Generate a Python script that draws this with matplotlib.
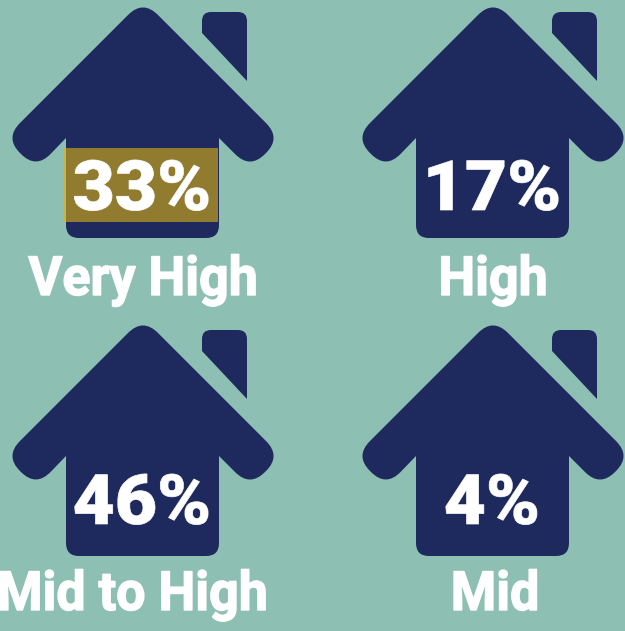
import matplotlib
matplotlib.use("Agg")
import matplotlib.pyplot as plt
from matplotlib.patches import PathPatch, Rectangle
from matplotlib.patheffects import AbstractPathEffect
from matplotlib.path import Path
from matplotlib.transforms import Affine2D
import numpy as np

categories = ["Very High", "High", "Mid to High", "Mid"]
percent_labels = ["33%", "17%", "46%", "4%"]
highlighted = ["Very High"]

BACKGROUND = "#8DBFB3"
NAVY = "#1E2A5E"
GOLD = "#907B2F"
GOLD_EDGE = "#C4B54E"

# Outline of one house icon in pixel units: (x, y, corner radius)
HOUSE_OUTLINE = [
    (143, 0, 21), (281, 138, 21), (250, 169, 21), (219, 138, 0),
    (219, 238, 13), (66, 238, 13), (66, 138, 0), (36, 169, 21),
    (5, 138, 21),
]
CHIMNEY_OUTLINE = [
    (202, 12, 9), (247, 12, 9), (247, 81, 0), (202, 33, 0),
]

COLUMN_OFFSETS = [0, 350]
ROW_OFFSETS = [0, 318]
PERCENT_BASELINES = [210, 524]
LABEL_BASELINES = [295, 610]
LABEL_ANCHORS = [143, 493, 0, 495]
LABEL_ALIGN = ["center", "center", "left", "center"]
LABEL_SHIFTS = [0, 0, -3, 0]


class Condense(AbstractPathEffect):
    """Scales glyphs horizontally about an anchor and thickens them with a stroke."""

    def __init__(self, anchor_x, factor, stroke, shift=0):
        super().__init__()
        self.anchor_x, self.factor, self.stroke, self.shift = anchor_x, factor, stroke, shift

    def draw_path(self, renderer, gc, tpath, affine, rgbFace):
        squeeze = (Affine2D().translate(-self.anchor_x, 0).scale(self.factor, 1)
                   .translate(self.anchor_x + self.shift, 0))
        gc2 = renderer.new_gc()
        gc2.copy_properties(gc)
        gc2.set_linewidth(self.stroke)
        gc2.set_foreground(rgbFace)
        renderer.draw_path(gc2, tpath, affine + squeeze, rgbFace)
        gc2.restore()


def rounded_path(points, dx=0, dy=0):
    """Closed path whose corners are softened by quadratic curves."""
    verts, codes = [], []
    n = len(points)
    for i, (x, y, r) in enumerate(points):
        p = np.array([x + dx, y + dy], float)
        prev = np.array(points[i - 1][:2], float) + (dx, dy)
        nxt = np.array(points[(i + 1) % n][:2], float) + (dx, dy)
        if r == 0:
            verts.append(p)
            codes.append(Path.MOVETO if i == 0 else Path.LINETO)
            continue
        a = p + (prev - p) / np.linalg.norm(prev - p) * r
        b = p + (nxt - p) / np.linalg.norm(nxt - p) * r
        verts += [a, p, b]
        codes += [Path.MOVETO if i == 0 else Path.LINETO, Path.CURVE3, Path.CURVE3]
    verts.append(verts[0])
    codes.append(Path.CLOSEPOLY)
    return Path(verts, codes)


fig = plt.figure(figsize=(6.25, 6.31), dpi=100, facecolor=BACKGROUND)
ax = fig.add_axes([0, 0, 1, 1])
ax.set_xlim(0, 625)
ax.set_ylim(631, 0)
ax.axis("off")

for i, (name, pct) in enumerate(zip(categories, percent_labels)):
    row, col = divmod(i, 2)
    dx, dy = COLUMN_OFFSETS[col], ROW_OFFSETS[row]
    for outline in (HOUSE_OUTLINE, CHIMNEY_OUTLINE):
        ax.add_patch(PathPatch(rounded_path(outline, dx, dy), facecolor=NAVY, edgecolor="none"))
    if name in highlighted:
        ax.add_patch(Rectangle((64 + dx, 148 + dy), 154, 74, facecolor=GOLD, edgecolor="none"))
        ax.add_patch(Rectangle((64 + dx, 148 + dy), 2, 74, facecolor=GOLD_EDGE, edgecolor="none"))
    ax.text(142 + dx, PERCENT_BASELINES[row], pct, color="white", ha="center", va="baseline",
            family="Roboto", fontweight="black", fontsize=50,
            path_effects=[Condense(142 + dx, 1.05, 0.5)])
    ax.text(LABEL_ANCHORS[i], LABEL_BASELINES[row], name, color="white",
            ha=LABEL_ALIGN[i], va="baseline",
            family="Roboto", fontweight="bold", fontsize=39,
            path_effects=[Condense(LABEL_ANCHORS[i], 0.96, 1.0, LABEL_SHIFTS[i])])

fig.savefig("out.png", dpi=100, facecolor=BACKGROUND)
